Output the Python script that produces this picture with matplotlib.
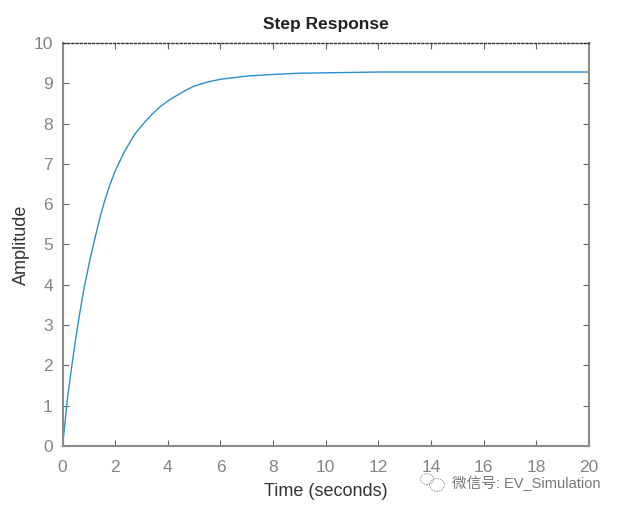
import matplotlib
matplotlib.use('Agg')
import matplotlib.pyplot as plt
from matplotlib.patches import Ellipse

plt.rcParams['font.family'] = ['Liberation Sans', 'Noto Sans CJK SC', 'DejaVu Sans']

time_s = [0, 0.1, 0.18, 0.35, 0.475, 0.63, 0.82, 1.05, 1.25, 1.43, 1.62, 1.8, 2, 2.31, 2.5, 2.76, 3.14, 3.4, 3.71, 4.09, 4.66, 5, 5.5, 6, 7, 8, 9, 10, 12, 14, 16, 18, 20]
amplitude = [0, 0.6, 1.14, 1.97, 2.55, 3.2, 3.92, 4.65, 5.2, 5.69, 6.12, 6.48, 6.82, 7.25, 7.47, 7.75, 8.05, 8.23, 8.42, 8.6, 8.82, 8.93, 9.03, 9.1, 9.18, 9.22, 9.25, 9.26, 9.28, 9.28, 9.28, 9.28, 9.28]
x_ticks = list(range(0, 21, 2))
y_ticks = list(range(0, 11))
gray = '#8c8c8c'

fig = plt.figure(figsize=(6.25, 5.09), dpi=100)
ax = fig.add_axes([62.5 / 625, 1 - 446 / 509, (589 - 62.5) / 625, (446 - 43) / 509])
ax.plot(time_s, amplitude, color='#2a8ed0', lw=1.0, clip_on=False)
ax.set_xlim(0, 20)
ax.set_ylim(0, 10)
ax.set_xticks(x_ticks)
ax.set_yticks(y_ticks)
ax.tick_params(direction='in', length=4, width=0.8, color='#666666', labelcolor='#858585', labelsize=12.5)
ax.tick_params(axis='x', pad=10)
ax.tick_params(axis='y', pad=7)
ax.tick_params(top=True, right=True)
for side in ['left', 'bottom', 'right']:
    ax.spines[side].set_color(gray)
    ax.spines[side].set_linewidth(1.5)
ax.spines['top'].set_color('#333333')
ax.spines['top'].set_linewidth(1.0)
ax.spines['top'].set_linestyle((0, (1.5, 1.5)))
ax.set_title('Step Response', fontsize=12.5, fontweight='bold', color='#222222', pad=10)
ax.set_xlabel('Time (seconds)', fontsize=13, color='#333333', labelpad=6)
ax.yaxis.set_label_coords(-(62.5 - 21) / (589 - 62.5), 0.5)
ax.set_ylabel('Amplitude', fontsize=13, color='#333333', va='center')

# watermark
fig.text(452 / 625, 1 - 483 / 509, '微信号: EV_Simulation', fontsize=10.5, color='#777777', va='center')
for cx, cy, w in [(427, 479, 13), (437, 485, 15)]:
    fig.add_artist(Ellipse((cx / 625, 1 - cy / 509), w / 625, w * 0.85 / 509, fill=False,
                           ec='#888888', lw=0.7, ls=(0, (1, 1)), transform=fig.transFigure))

fig.savefig('out.png', dpi=100)
